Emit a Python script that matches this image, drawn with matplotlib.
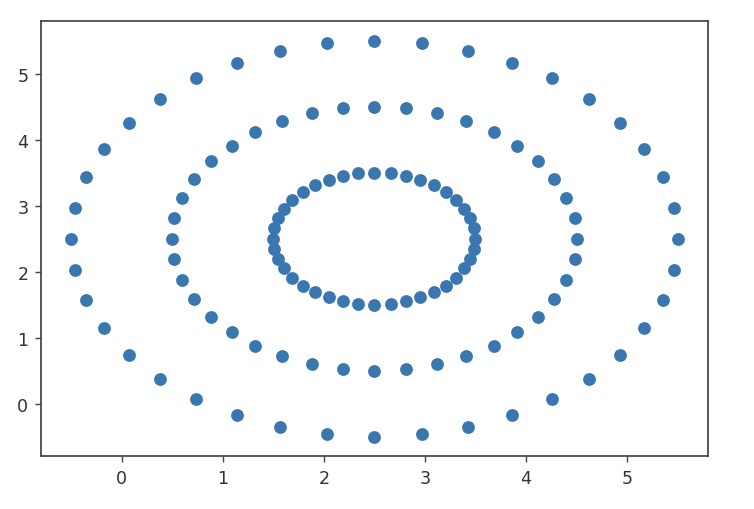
#!/usr/bin/env python3
"""Three concentric rings of points."""

import matplotlib

matplotlib.use("Agg")
import matplotlib.pyplot as plt

# inner ring
inner_x = [3.50, 3.49, 3.45, 3.39, 3.31, 3.21, 3.09, 2.95, 2.81, 2.66,
           2.50, 2.34, 2.19, 2.05, 1.91, 1.79, 1.69, 1.61, 1.55, 1.51,
           1.50, 1.51, 1.55, 1.61, 1.69, 1.79, 1.91, 2.05, 2.19, 2.34,
           2.50, 2.66, 2.81, 2.95, 3.09, 3.21, 3.31, 3.39, 3.45, 3.49]
inner_y = [2.50, 2.66, 2.81, 2.95, 3.09, 3.21, 3.31, 3.39, 3.45, 3.49,
           3.50, 3.49, 3.45, 3.39, 3.31, 3.21, 3.09, 2.95, 2.81, 2.66,
           2.50, 2.34, 2.19, 2.05, 1.91, 1.79, 1.69, 1.61, 1.55, 1.51,
           1.50, 1.51, 1.55, 1.61, 1.69, 1.79, 1.91, 2.05, 2.19, 2.34]

# middle ring
middle_x = [4.50, 4.48, 4.40, 4.28, 4.12, 3.91, 3.68, 3.41, 3.12, 2.81,
            2.50, 2.19, 1.88, 1.59, 1.32, 1.09, 0.88, 0.72, 0.60, 0.52,
            0.50, 0.52, 0.60, 0.72, 0.88, 1.09, 1.32, 1.59, 1.88, 2.19,
            2.50, 2.81, 3.12, 3.41, 3.68, 3.91, 4.12, 4.28, 4.40, 4.48]
middle_y = [2.50, 2.81, 3.12, 3.41, 3.68, 3.91, 4.12, 4.28, 4.40, 4.48,
            4.50, 4.48, 4.40, 4.28, 4.12, 3.91, 3.68, 3.41, 3.12, 2.81,
            2.50, 2.19, 1.88, 1.59, 1.32, 1.09, 0.88, 0.72, 0.60, 0.52,
            0.50, 0.52, 0.60, 0.72, 0.88, 1.09, 1.32, 1.59, 1.88, 2.19]

# outer ring
outer_x = [5.50, 5.46, 5.35, 5.17, 4.93, 4.62, 4.26, 3.86, 3.43, 2.97,
           2.50, 2.03, 1.57, 1.14, 0.74, 0.38, 0.07, -0.17, -0.35, -0.46,
           -0.50, -0.46, -0.35, -0.17, 0.07, 0.38, 0.74, 1.14, 1.57, 2.03,
           2.50, 2.97, 3.43, 3.86, 4.26, 4.62, 4.93, 5.17, 5.35, 5.46]
outer_y = [2.50, 2.97, 3.43, 3.86, 4.26, 4.62, 4.93, 5.17, 5.35, 5.46,
           5.50, 5.46, 5.35, 5.17, 4.93, 4.62, 4.26, 3.86, 3.43, 2.97,
           2.50, 2.03, 1.57, 1.14, 0.74, 0.38, 0.07, -0.17, -0.35, -0.46,
           -0.50, -0.46, -0.35, -0.17, 0.07, 0.38, 0.74, 1.14, 1.57, 2.03]


def plot(ax):
    xs = outer_x + middle_x + inner_x
    ys = outer_y + middle_y + inner_y
    ax.scatter(xs, ys, s=40, color="#3a76b0")

    # the reference frame reads a little grey and soft
    for spine in ax.spines.values():
        spine.set_color("#444444")
        spine.set_linewidth(1.0)
    ax.tick_params(colors="#444444", labelcolor="#333333")


def main():
    fig = plt.figure(figsize=(6, 4.058), dpi=125.67)
    fig.subplots_adjust(left=0.054, right=0.939, top=0.957, bottom=0.103)
    ax = fig.add_subplot(111)
    plot(ax)
    fig.savefig("out.png", dpi=125.67)


if __name__ == "__main__":
    main()
